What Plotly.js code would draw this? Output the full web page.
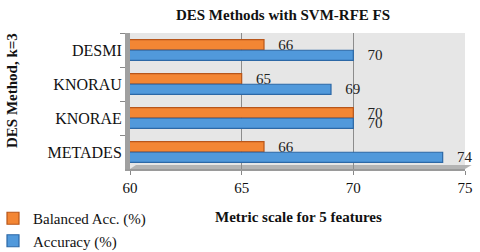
<!DOCTYPE html>
<html><head><meta charset="utf-8">
<script src="https://cdn.plot.ly/plotly-3.0.1.min.js"></script>
<style>html,body{margin:0;padding:0;background:#fff}#c{width:480px;height:252px}</style>
</head><body><div id="c"></div>
<script>
const categories = ["DESMI", "KNORAU", "KNORAE", "METADES"];
const balancedAcc = [66, 65, 70, 66];
const accuracy = [70, 69, 70, 74];
const xTicks = [60, 65, 70, 75];

const serif = "Liberation Serif, Times New Roman, serif";
const traces = [
  {type: "bar", orientation: "h", name: "Balanced Acc. (%)", y: categories, x: balancedAcc,
   texttemplate: "   %{x}", textposition: "outside", cliponaxis: false, constraintext: "none",
   textfont: {family: serif, size: 15, color: "#222"},
   marker: {color: "#F38634", line: {color: "#B8561A", width: 1.2}}},
  {type: "bar", orientation: "h", name: "Accuracy (%)", y: categories, x: accuracy,
   texttemplate: "   %{x}", textposition: "outside", cliponaxis: false, constraintext: "none",
   textfont: {family: serif, size: 15, color: "#222"},
   marker: {color: "#5199DB", line: {color: "#2C68A6", width: 1.2}}}
];

const layout = {
  width: 480, height: 252,
  margin: {l: 130, r: 15, t: 33, b: 83, autoexpand: false},
  paper_bgcolor: "#fff", plot_bgcolor: "#E6E6E6",
  font: {family: serif, color: "#111"},
  title: {text: "<b>DES Methods with SVM-RFE FS</b>", font: {family: serif, size: 15, color: "#111"},
          x: 283/480, xanchor: "center", y: 1 - 15/252, yanchor: "middle"},
  barmode: "group", bargap: 0.38, bargroupgap: 0.05,
  showlegend: true,
  legend: {x: -137/335, y: -33/136, yanchor: "top", xanchor: "left",
           font: {family: serif, size: 15, color: "#111"}, tracegroupgap: 0,
           bgcolor: "rgba(0,0,0,0)", itemwidth: 30},
  xaxis: {range: [60, 75], tickvals: xTicks, ticktext: xTicks.map(String),
          showgrid: true, gridcolor: "#8C8C8C", gridwidth: 1, zeroline: false,
          showline: true, linecolor: "#9A9A9A", linewidth: 2, ticks: "outside", ticklen: 4, tickcolor: "#888",
          tickfont: {family: serif, size: 15, color: "#111"}},
  yaxis: {type: "category", categoryorder: "array", categoryarray: categories, autorange: "reversed",
          showgrid: false, showline: true, linecolor: "#A0A0A0", linewidth: 5,
          ticks: "outside", ticklen: 5, tickcolor: "#888", tickson: "boundaries",
          tickfont: {family: serif, size: 16, color: "#111"}},
  annotations: [
    {text: "<b>Metric scale for 5 features</b>", xref: "paper", yref: "paper", x: (298-130)/335, y: -(217-169)/136,
     xanchor: "center", yanchor: "middle", showarrow: false, font: {family: serif, size: 15, color: "#111"}},
    {text: "<b>DES Method, k=3</b>", xref: "paper", yref: "paper", x: (12-130)/335, y: (169-91)/136,
     xanchor: "center", yanchor: "middle", textangle: -90, showarrow: false, font: {family: serif, size: 15, color: "#111"}}
  ],
  shapes: [
    {type: "path", xref: "paper", yref: "paper", path: "M 0 0 L 1 0 L 1.02 0.03 L 0.018 0.03 Z",
     fillcolor: "#B4B4B4", line: {width: 0}, layer: "below"}
  ]
};
Plotly.newPlot("c", traces, layout, {displayModeBar: false, staticPlot: true});
</script></body></html>
